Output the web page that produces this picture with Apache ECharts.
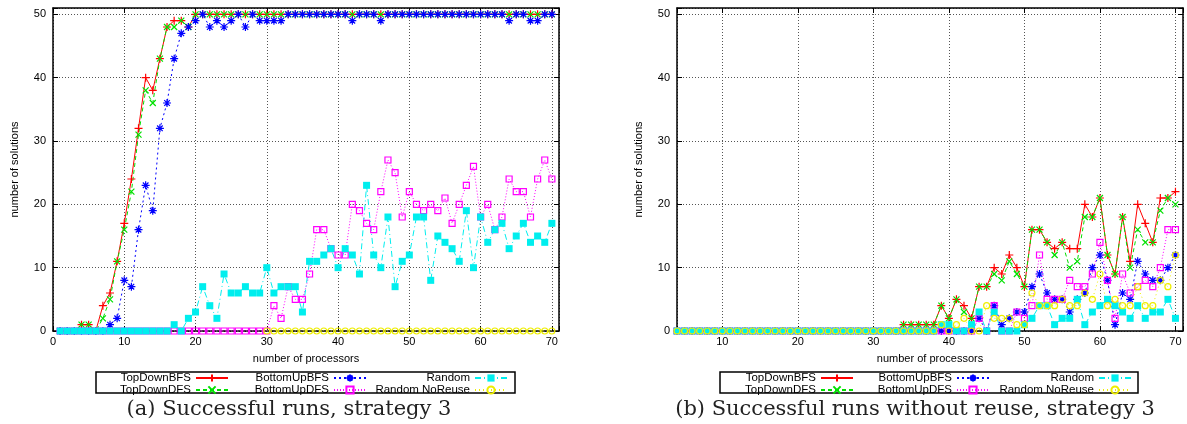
<!DOCTYPE html>
<html>
<head>
<meta charset="utf-8">
<title>Successful runs, strategy 3</title>
<script src="https://cdn.jsdelivr.net/npm/echarts@6.0.0/dist/echarts.min.js"></script>
<style>
  html, body { margin: 0; padding: 0; background: #fff; }
  #main { width: 1187px; height: 424px; }
</style>
</head>
<body>
<div id="main"></div>
<script>
// number of processors, panel (a) and panel (b)
const procA = [1,2,3,4,5,6,7,8,9,10,11,12,13,14,15,16,17,18,19,20,21,22,23,24,25,26,27,28,29,30,
  31,32,33,34,35,36,37,38,39,40,41,42,43,44,45,46,47,48,49,50,51,52,53,54,55,56,57,58,59,60,
  61,62,63,64,65,66,67,68,69,70]
const procB = [4,5,6,7,8,9,10,11,12,13,14,15,16,17,18,19,20,21,22,23,24,25,26,27,28,29,30,
  31,32,33,34,35,36,37,38,39,40,41,42,43,44,45,46,47,48,49,50,51,52,53,54,55,56,57,58,59,60,
  61,62,63,64,65,66,67,68,69,70]

// (a) Successful runs, strategy 3
const topDownBfsA = [0,0,0,1,1,0,4,6,11,17,24,32,40,38,43,48,49,49,48,50,
  50,50,50,50,50,50,50,50,50,50,50,50,50,50,50,50,50,50,50,50,
  50,50,50,50,50,50,50,50,50,50,50,50,50,50,50,50,50,50,50,50,
  50,50,50,50,50,50,50,50,50,50]
const topDownDfsA = [0,0,0,1,1,0,2,5,11,16,22,31,38,36,43,48,48,49,48,50,
  50,50,50,50,50,50,50,50,50,50,50,50,50,50,50,50,50,50,50,50,
  50,50,50,50,50,50,50,50,50,50,50,50,50,50,50,50,50,50,50,50,
  50,50,50,50,50,50,50,50,50,50]
const bottomUpBfsA = [0,0,0,0,0,0,0,1,2,8,7,16,23,19,32,36,43,47,48,49,
  50,48,49,48,49,50,48,50,49,49,49,49,50,50,50,50,50,50,50,50,
  50,49,50,50,50,49,50,50,50,50,50,50,50,50,50,50,50,50,50,50,
  50,50,50,49,50,50,49,49,50,50]
const bottomUpDfsA = [0,0,0,0,0,0,0,0,0,0,0,0,0,0,0,0,0,0,0,0,
  0,0,0,0,0,0,0,0,0,0,4,2,7,5,5,9,16,16,13,12,
  12,20,19,17,16,22,27,25,18,22,20,19,20,19,21,17,20,23,26,18,
  20,16,18,24,22,22,18,24,27,24]
const randomA = [0,0,0,0,0,0,0,0,0,0,0,0,0,0,0,0,1,0,2,3,
  7,4,2,9,6,6,7,6,6,10,6,7,7,7,3,11,11,12,13,10,
  13,12,9,23,12,10,18,7,11,12,18,18,8,15,14,13,11,19,10,18,
  14,16,17,13,15,17,14,15,14,17]
const noReuseA = [null,null,null,null,null,null,null,null,null,null,null,null,null,null,null,
  null,null,null,null,null,null,null,null,null,null,null,null,null,null,0,
  0,0,0,0,0,0,0,0,0,0,0,0,0,0,0,0,0,0,0,0,0,0,0,0,0,0,0,0,0,0,
  0,0,0,0,0,0,0,0,0,0]

// (b) Successful runs without reuse, strategy 3
const topDownBfsB = [0,0,0,0,0,0,0,0,0,0,0,0,0,0,0,0,0,0,0,0,0,0,0,0,0,0,0,0,0,0,
  1,1,1,1,1,4,2,5,4,2,7,7,10,9,12,10,7,16,16,14,13,14,13,13,20,18,21,12,9,18,
  11,20,17,14,21,21,22]
const topDownDfsB = [0,0,0,0,0,0,0,0,0,0,0,0,0,0,0,0,0,0,0,0,0,0,0,0,0,0,0,0,0,0,
  1,1,1,1,1,4,2,5,3,2,7,7,9,8,11,9,7,16,16,14,12,14,10,11,18,18,21,12,9,18,
  10,16,14,14,19,21,20]
const bottomUpBfsB = [0,0,0,0,0,0,0,0,0,0,0,0,0,0,0,0,0,0,0,0,0,0,0,0,0,0,0,0,0,0,
  0,0,0,0,0,0,0,0,0,0,2,0,4,1,2,3,3,7,9,6,5,5,3,5,6,10,12,8,1,6,
  5,11,9,8,8,10,12]
const bottomUpDfsB = [0,0,0,0,0,0,0,0,0,0,0,0,0,0,0,0,0,0,0,0,0,0,0,0,0,0,0,0,0,0,
  0,0,0,0,0,0,0,0,0,0,2,0,4,0,0,3,2,4,12,5,5,5,8,7,7,9,14,8,2,9,
  6,7,8,7,10,16,16]
const randomB = [0,0,0,0,0,0,0,0,0,0,0,0,0,0,0,0,0,0,0,0,0,0,0,0,0,0,0,0,0,0,
  0,0,0,0,0,1,1,0,0,1,3,0,3,0,0,0,1,2,4,4,1,2,2,5,1,3,4,5,4,3,
  2,4,2,3,3,5,2]
const noReuseB = [0,0,0,0,0,0,0,0,0,0,0,0,0,0,0,0,0,0,0,0,0,0,0,0,0,0,0,0,0,0,
  0,0,0,0,0,1,0,1,2,0,0,4,2,2,2,1,1,6,4,4,4,5,4,4,6,5,9,4,5,4,
  4,7,4,4,8,7,12]

const seriesNames = ['TopDownBFS', 'TopDownDFS', 'BottomUpBFS', 'BottomUpDFS', 'Random', 'Random NoReuse']
const font = 'Liberation Sans'

const plusPath = 'path://M0,5L10,5M5,0L5,10'
const crossPath = 'path://M0,0L10,10M0,10L10,0'
const starPath = 'path://M0,5L10,5M5,0L5,10M1.5,1.5L8.5,8.5M1.5,8.5L8.5,1.5'

const looks = [
  {color: '#ff0000', dash: 'solid', symbol: plusPath, size: 8, mode: 'stroke'},
  {color: '#00e000', dash: [4, 3], symbol: crossPath, size: 6, mode: 'stroke'},
  {color: '#0000ff', dash: [2, 3], symbol: starPath, size: 8, mode: 'stroke'},
  {color: '#ff00ff', dash: [1, 2], symbol: 'rect', size: 6, mode: 'open'},
  {color: '#00eeee', dash: [6, 3, 1, 3], symbol: 'rect', size: 7, mode: 'fill'},
  {color: '#eeee00', dash: [1, 3], symbol: 'circle', size: 6, mode: 'open'}
]

function pairs(xs, ys) {
  return xs.map((x, i) => [x, ys[i]])
}

function makeSeries(idx, gridIdx, xs, ys) {
  const lk = looks[idx]
  let itemStyle
  if (lk.mode === 'fill') itemStyle = {color: lk.color, borderWidth: 0}
  else if (lk.mode === 'open') itemStyle = {color: 'rgba(0,0,0,0)', borderColor: lk.color, borderWidth: 1.2}
  else itemStyle = {color: lk.color, borderColor: lk.color, borderWidth: 1.2}
  return {
    name: seriesNames[idx],
    type: 'line',
    xAxisIndex: gridIdx * 2,
    yAxisIndex: gridIdx * 2,
    data: pairs(xs, ys),
    symbol: lk.symbol,
    symbolSize: lk.size,
    showSymbol: true,
    connectNulls: false,
    lineStyle: {color: lk.color, width: 1, type: lk.dash},
    itemStyle: itemStyle,
    emphasis: {disabled: true},
    silent: true
  }
}

const gridLine = {show: true, lineStyle: {color: '#555', width: 1, type: [1, 2]}}
const frameLine = {show: true, onZero: false, lineStyle: {color: '#000', width: 1.5}}
const tickIn = {show: true, inside: true, length: 5, lineStyle: {color: '#000', width: 1}}
const tenOnly = v => (v % 10 === 0 ? String(v) : '')

function mainX(gridIdx, min, max, useInterval) {
  const ax = {
    type: 'value', gridIndex: gridIdx, min: min, max: max,
    axisLine: frameLine, axisTick: tickIn, splitLine: gridLine,
    axisLabel: {margin: 5, fontFamily: font, fontSize: 11, color: '#000', formatter: tenOnly},
    name: 'number of processors', nameLocation: 'middle', nameGap: 22,
    nameTextStyle: {fontFamily: font, fontSize: 11, color: '#000'}
  }
  if (useInterval) ax.interval = 10
  return ax
}
function mirrorX(gridIdx, min, max, useInterval) {
  const ax = {
    type: 'value', gridIndex: gridIdx, position: 'top', min: min, max: max,
    axisLine: frameLine, axisTick: tickIn, splitLine: {show: false}, axisLabel: {show: false}
  }
  if (useInterval) ax.interval = 10
  return ax
}
function mainY(gridIdx) {
  return {
    type: 'value', gridIndex: gridIdx, min: 0, max: 51, interval: 10,
    axisLine: frameLine, axisTick: tickIn, splitLine: gridLine,
    axisLabel: {margin: 7, fontFamily: font, fontSize: 11, color: '#000', formatter: tenOnly},
    name: 'number of solutions', nameLocation: 'middle', nameGap: 33,
    nameTextStyle: {fontFamily: font, fontSize: 11, color: '#000'}
  }
}
function mirrorY(gridIdx) {
  return {
    type: 'value', gridIndex: gridIdx, position: 'right', min: 0, max: 51, interval: 10,
    axisLine: frameLine, axisTick: tickIn, splitLine: {show: false}, axisLabel: {show: false}
  }
}

function legendCol(names, rightPx) {
  return {
    orient: 'vertical', align: 'right', right: rightPx, top: 372, padding: 0,
    itemGap: 0, itemWidth: 32, itemHeight: 9, selectedMode: false,
    data: names,
    textStyle: {fontFamily: font, fontSize: 11.5, color: '#000', lineHeight: 10}
  }
}

const seriesA = [topDownBfsA, topDownDfsA, bottomUpBfsA, bottomUpDfsA, randomA, noReuseA]
const seriesB = [topDownBfsB, topDownDfsB, bottomUpBfsB, bottomUpDfsB, randomB, noReuseB]

const captionStyle = {fontFamily: 'DejaVu Serif', fontSize: 21, fontWeight: 'normal', color: '#222'}

const option = {
  animation: false,
  backgroundColor: '#fff',
  title: [
    {text: '(a) Successful runs, strategy 3', left: 289, top: 399, textAlign: 'center', padding: 0,
      textStyle: captionStyle},
    {text: '(b) Successful runs without reuse, strategy 3', left: 915, top: 399, textAlign: 'center', padding: 0,
      textStyle: captionStyle}
  ],
  grid: [
    {left: 53, top: 8, width: 506, height: 323},
    {left: 677, top: 8, width: 506, height: 323}
  ],
  xAxis: [mainX(0, 0, 71, true), mirrorX(0, 0, 71, true), mainX(1, 4, 71, false), mirrorX(1, 4, 71, false)],
  yAxis: [mainY(0), mirrorY(0), mainY(1), mirrorY(1)],
  legend: [
    legendCol(['TopDownBFS', 'TopDownDFS'], 958),
    legendCol(['BottomUpBFS', 'BottomUpDFS'], 820),
    legendCol(['Random', 'Random NoReuse'], 679),
    legendCol(['TopDownBFS', 'TopDownDFS'], 333),
    legendCol(['BottomUpBFS', 'BottomUpDFS'], 197),
    legendCol(['Random', 'Random NoReuse'], 55)
  ],
  graphic: [
    {type: 'rect', shape: {x: 96, y: 372, width: 419, height: 21}, style: {fill: 'none', stroke: '#000', lineWidth: 1.5}, silent: true},
    {type: 'rect', shape: {x: 720, y: 372, width: 418, height: 21}, style: {fill: 'none', stroke: '#000', lineWidth: 1.5}, silent: true}
  ],
  series: seriesA.map((ys, i) => makeSeries(i, 0, procA, ys))
    .concat(seriesB.map((ys, i) => makeSeries(i, 1, procB, ys)))
}

const chart = echarts.init(document.getElementById('main'), null, {renderer: 'canvas'})
chart.setOption(option)
window.addEventListener('resize', () => chart.resize())
</script>
</body>
</html>
